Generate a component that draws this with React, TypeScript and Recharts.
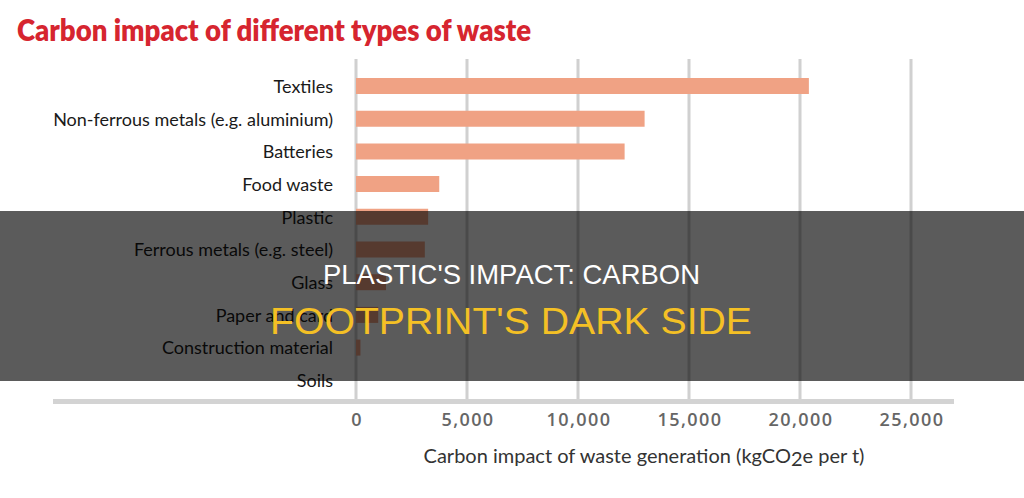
import { BarChart, Bar, XAxis, YAxis, CartesianGrid, Customized } from 'recharts';

const categories = [
  'Textiles',
  'Non-ferrous metals (e.g. aluminium)',
  'Batteries',
  'Food waste',
  'Plastic',
  'Ferrous metals (e.g. steel)',
  'Glass',
  'Paper and card',
  'Construction material',
  'Soils',
];
const impactValues = [20400, 13000, 12100, 3750, 3250, 3100, 1350, 1000, 200, 0];
const xTicks = [0, 5000, 10000, 15000, 20000, 25000];

const chartTitle = 'Carbon impact of different types of waste';
const headlineTop = "PLASTIC'S IMPACT: CARBON";
const headlineBottom = "FOOTPRINT'S DARK SIDE";

const data = categories.map((name, i) => ({ name, value: impactValues[i] }));

const CategoryTick = (props: any) => {
  const { x, y, payload } = props;
  return (
    <text x={x} y={y + 6.5} textAnchor="end" fill="#1a1a1a" fontSize={18} fontFamily="Lato">
      {payload.value}
    </text>
  );
};

const ValueTick = (props: any) => {
  const { x, y, payload } = props;
  return (
    <text
      x={x + 1}
      y={y + 27}
      textAnchor="middle"
      fill="#666"
      fontSize={18}
      fontWeight={600}
      letterSpacing={1.4}
      fontFamily="Open Sans"
    >
      {payload.value.toLocaleString('en-US')}
    </text>
  );
};

const Decor = () => (
  <g>
    <text x={17} y={41} fill="#d6252f" fontSize={30} fontWeight={800} fontFamily="Lato" textLength={514} lengthAdjust="spacingAndGlyphs">
      {chartTitle}
    </text>
    <rect x={53} y={399} width={901} height={5} fill="#d3d3d3" />
    <text x={644} y={463} textAnchor="middle" fill="#333" fontSize={20} fontFamily="Lato">
      Carbon impact of waste generation (kgCO<tspan dy={3}>2</tspan><tspan dy={-3}>e per t)</tspan>
    </text>
  </g>
);

export default function App() {
  return (
    <div style={{ position: 'absolute', left: 0, top: 0, width: 1024, height: 498, background: '#fff', overflow: 'hidden' }}>
      <BarChart
        width={1024}
        height={498}
        data={data}
        layout="vertical"
        margin={{ top: 59, right: 113, bottom: 0, left: 0 }}
      >
        <CartesianGrid horizontal={false} stroke="#d0d0d0" strokeWidth={3} />
        <XAxis
          type="number"
          domain={[0, 25000]}
          ticks={xTicks}
          axisLine={false}
          tickLine={false}
          tickSize={0}
          tickMargin={0}
          height={99}
          tick={<ValueTick />}
          interval={0}
        />
        <YAxis
          type="category"
          dataKey="name"
          width={356}
          axisLine={false}
          tickLine={false}
          tickSize={0}
          tickMargin={23}
          padding={{ top: 11, bottom: 2 }}
          tick={<CategoryTick />}
          interval={0}
        />
        <Bar dataKey="value" fill="#f0a284" barSize={16} isAnimationActive={false} />
        <Customized component={<Decor />} />
      </BarChart>
      <svg width={1024} height={498} style={{ position: 'absolute', left: 0, top: 0 }}>
        <rect x={0} y={211} width={1024} height={170} fill="rgba(0,0,0,0.643)" />
        <text x={323} y={284} fill="#ffffff" fontSize={27.5} fontFamily="Liberation Sans" textLength={377} lengthAdjust="spacingAndGlyphs">
          {headlineTop}
        </text>
        <text x={270} y={334} fill="#f4c025" fontSize={36} fontFamily="Liberation Sans" textLength={482} lengthAdjust="spacingAndGlyphs">
          {headlineBottom}
        </text>
      </svg>
    </div>
  );
}
